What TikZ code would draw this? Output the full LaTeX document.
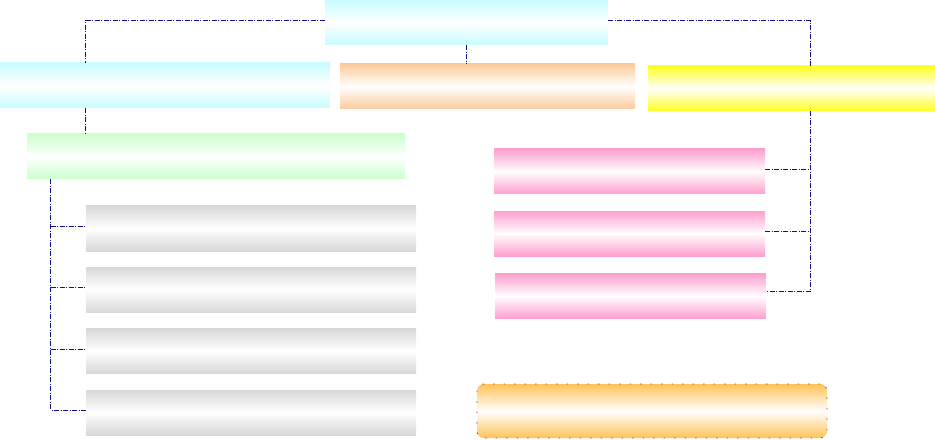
\documentclass[tikz,border=0pt]{standalone}
\usetikzlibrary{calc}
\definecolor{cyanc}{HTML}{C8FCFF}
\definecolor{orangec}{HTML}{FCCB9C}
\definecolor{yellowc}{HTML}{FFFF22}
\definecolor{greenc}{HTML}{CCFFCC}
\definecolor{grayc}{HTML}{D8D8D8}
\definecolor{pinkc}{HTML}{FF9FCF}
\definecolor{goldc}{HTML}{FFC35A}
\definecolor{linec}{HTML}{10108F}
\definecolor{brownc}{HTML}{8A4A10}
\tikzset{
  gbox/.style={draw=none, rectangle, inner sep=0pt, minimum height=45pt,
    top color=#1, bottom color=#1, middle color=white},
  conn/.style={draw=linec, line width=1pt, dash pattern=on 5pt off 1.5pt on 1pt off 1.5pt},
}
\begin{document}
\begin{tikzpicture}[x=1pt,y=-1pt]
\useasboundingbox (0,0) rectangle (935,441);
\node[gbox=cyanc, minimum width=283pt] (top) at (466.5,22.5) {};
\node[gbox=cyanc, minimum width=330pt] (leftc) at (165,85.5) {};
\node[gbox=orangec, minimum width=295pt] (orange) at (487.5,86.5) {};
\node[gbox=yellowc, minimum width=287pt] (yellow) at (791.5,88.5) {};
\node[gbox=greenc, minimum width=378pt] (green) at (216,156.5) {};
\node[gbox=grayc, minimum width=330pt] (gray1) at (251,228.5) {};
\node[gbox=grayc, minimum width=330pt] (gray2) at (251,289.5) {};
\node[gbox=grayc, minimum width=330pt] (gray3) at (251,351) {};
\node[gbox=grayc, minimum width=330pt] (gray4) at (251,412.5) {};
\node[gbox=pinkc, minimum width=271pt] (pink1) at (629.5,171.5) {};
\node[gbox=pinkc, minimum width=271pt] (pink2) at (629.5,233.5) {};
\node[gbox=pinkc, minimum width=271pt] (pink3) at (630.5,296) {};
\node[gbox=goldc, minimum width=350pt, minimum height=54pt, rounded corners=7pt,
  draw=brownc, line width=0.8pt, dash pattern=on 1.5pt off 9pt] (note) at (652,411) {};
% connectors
\coordinate (ltop) at ([xshift=86pt]leftc.north west);
\coordinate (ytop) at ([xshift=163pt]yellow.north west);
\draw[conn] ([yshift=1.5pt]top.west) -| (ltop);
\draw[conn] ([yshift=1.5pt]top.east) -| (ytop);
\draw[conn] (top.south) -- (top.south |- orange.north);
\draw[conn] ([xshift=86pt]leftc.south west) -- ([xshift=59pt]green.north west);
\coordinate (gt) at ([xshift=24pt]green.south west);
\draw[conn] (gt) |- ([yshift=2.5pt]gray4.west);
\draw[conn] ([yshift=2.5pt]gray1.west -| gt) -- ([yshift=2.5pt]gray1.west);
\draw[conn] ([yshift=2.5pt]gray2.west -| gt) -- ([yshift=2.5pt]gray2.west);
\draw[conn] ([yshift=2pt]gray3.west -| gt) -- ([yshift=2pt]gray3.west);
\coordinate (yt) at ([xshift=163pt]yellow.south west);
\draw[conn] (yt) |- ([yshift=5pt]pink3.east);
\draw[conn] ([yshift=1.5pt]pink1.east) -- ([yshift=1.5pt]pink1.east -| yt);
\draw[conn] ([yshift=2.5pt]pink2.east) -- ([yshift=2.5pt]pink2.east -| yt);
\end{tikzpicture}
\end{document}
